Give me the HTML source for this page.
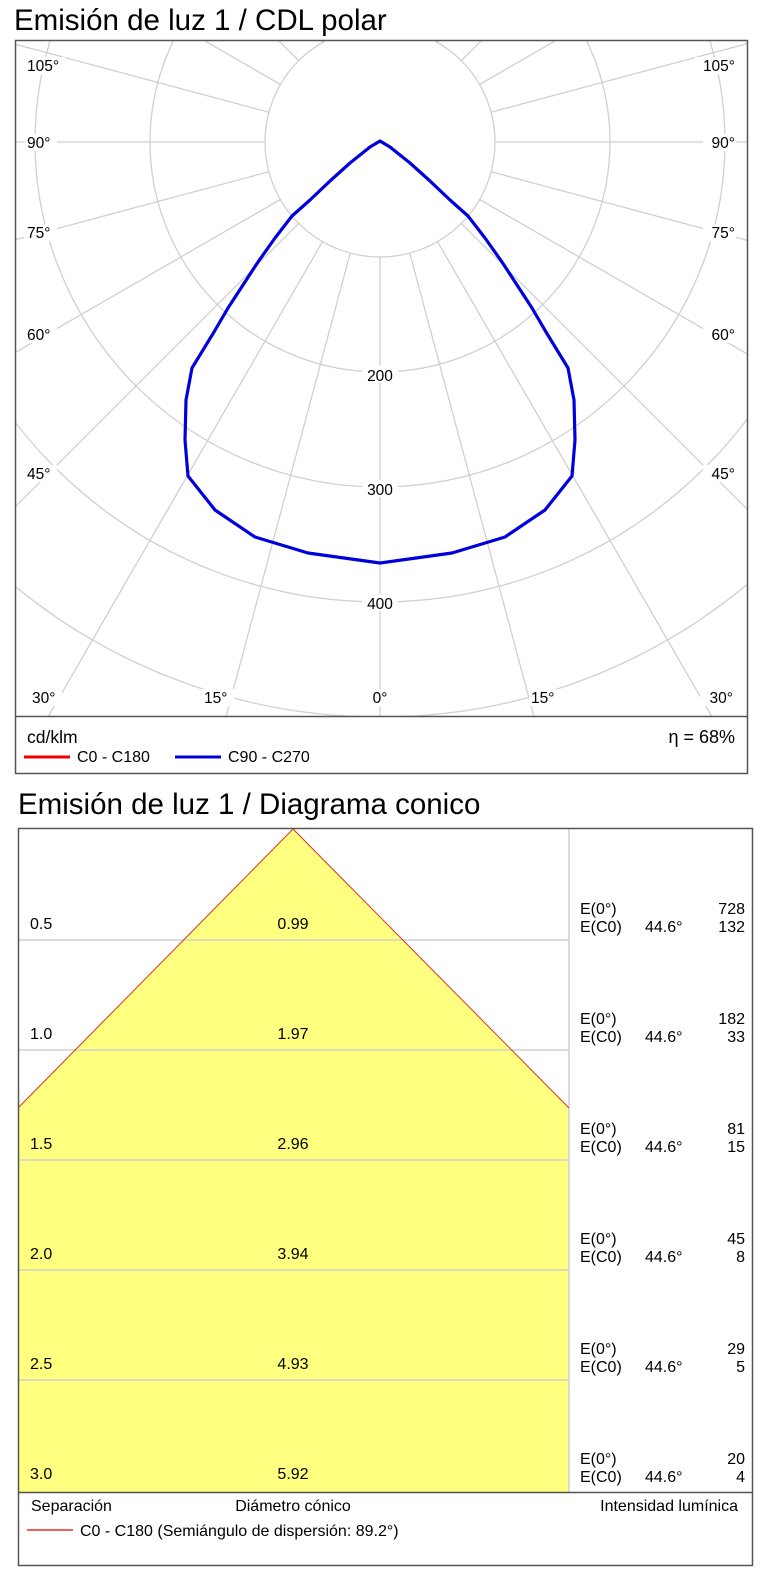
<!DOCTYPE html>
<html><head><meta charset="utf-8"><style>
html,body{margin:0;padding:0;background:#fff;}
svg{display:block;font-family:"Liberation Sans",sans-serif;}
</style></head><body>
<svg width="764" height="1575" viewBox="0 0 764 1575" xmlns="http://www.w3.org/2000/svg">
<defs>
<clipPath id="pc"><rect x="16" y="41" width="731" height="675"/></clipPath>
</defs>
<text x="14" y="30" font-size="29.5" fill="#000">Emisión de luz 1 / CDL polar</text>
<g clip-path="url(#pc)" stroke="#d0d0d0" stroke-width="1.3" fill="none">
<circle cx="380" cy="142" r="115"/>
<circle cx="380" cy="142" r="230"/>
<circle cx="380" cy="142" r="345"/>
<circle cx="380" cy="142" r="460"/>
<circle cx="380" cy="142" r="575"/>
<circle cx="380" cy="142" r="690"/>
<g>
<line x1="380" y1="257" x2="380" y2="1100"/>
<line x1="380" y1="257" x2="380" y2="1100" transform="rotate(15 380 142)"/>
<line x1="380" y1="257" x2="380" y2="1100" transform="rotate(30 380 142)"/>
<line x1="380" y1="257" x2="380" y2="1100" transform="rotate(45 380 142)"/>
<line x1="380" y1="257" x2="380" y2="1100" transform="rotate(60 380 142)"/>
<line x1="380" y1="257" x2="380" y2="1100" transform="rotate(75 380 142)"/>
<line x1="380" y1="257" x2="380" y2="1100" transform="rotate(90 380 142)"/>
<line x1="380" y1="257" x2="380" y2="1100" transform="rotate(105 380 142)"/>
<line x1="380" y1="257" x2="380" y2="1100" transform="rotate(120 380 142)"/>
<line x1="380" y1="257" x2="380" y2="1100" transform="rotate(135 380 142)"/>
<line x1="380" y1="257" x2="380" y2="1100" transform="rotate(150 380 142)"/>
<line x1="380" y1="257" x2="380" y2="1100" transform="rotate(165 380 142)"/>
<line x1="380" y1="257" x2="380" y2="1100" transform="rotate(-15 380 142)"/>
<line x1="380" y1="257" x2="380" y2="1100" transform="rotate(-30 380 142)"/>
<line x1="380" y1="257" x2="380" y2="1100" transform="rotate(-45 380 142)"/>
<line x1="380" y1="257" x2="380" y2="1100" transform="rotate(-60 380 142)"/>
<line x1="380" y1="257" x2="380" y2="1100" transform="rotate(-75 380 142)"/>
<line x1="380" y1="257" x2="380" y2="1100" transform="rotate(-90 380 142)"/>
<line x1="380" y1="257" x2="380" y2="1100" transform="rotate(-105 380 142)"/>
<line x1="380" y1="257" x2="380" y2="1100" transform="rotate(-120 380 142)"/>
<line x1="380" y1="257" x2="380" y2="1100" transform="rotate(-135 380 142)"/>
<line x1="380" y1="257" x2="380" y2="1100" transform="rotate(-150 380 142)"/>
<line x1="380" y1="257" x2="380" y2="1100" transform="rotate(-165 380 142)"/>
</g>
</g>
<g font-size="15.5" fill="#000">
<rect x="362" y="366" width="36" height="17" fill="#fff"/>
<rect x="362" y="480" width="36" height="17" fill="#fff"/>
<rect x="362" y="594" width="36" height="17" fill="#fff"/>
<text x="380" y="381" text-anchor="middle">200</text>
<text x="380" y="495" text-anchor="middle">300</text>
<text x="380" y="609" text-anchor="middle">400</text>
<g>
<rect x="24" y="57" width="41" height="17" fill="#fff"/><text x="27" y="71">105°</text>
<rect x="24" y="134" width="33" height="17" fill="#fff"/><text x="27" y="148">90°</text>
<rect x="24" y="224" width="33" height="17" fill="#fff"/><text x="27" y="238">75°</text>
<rect x="24" y="326" width="33" height="17" fill="#fff"/><text x="27" y="340">60°</text>
<rect x="24" y="465" width="33" height="17" fill="#fff"/><text x="27" y="479">45°</text>
<rect x="29" y="689" width="33" height="17" fill="#fff"/><text x="32" y="703">30°</text>
<rect x="202" y="689" width="33" height="17" fill="#fff"/><text x="204" y="703">15°</text>
<rect x="369" y="689" width="24" height="17" fill="#fff"/><text x="380" y="703" text-anchor="middle">0°</text>
<rect x="529" y="689" width="33" height="17" fill="#fff"/><text x="531" y="703">15°</text>
<rect x="700" y="689" width="33" height="17" fill="#fff"/><text x="733" y="703" text-anchor="end">30°</text>
<rect x="695" y="57" width="41" height="17" fill="#fff"/><text x="735" y="71" text-anchor="end">105°</text>
<rect x="703" y="134" width="33" height="17" fill="#fff"/><text x="735" y="148" text-anchor="end">90°</text>
<rect x="703" y="224" width="33" height="17" fill="#fff"/><text x="735" y="238" text-anchor="end">75°</text>
<rect x="703" y="326" width="33" height="17" fill="#fff"/><text x="735" y="340" text-anchor="end">60°</text>
<rect x="703" y="465" width="33" height="17" fill="#fff"/><text x="735" y="479" text-anchor="end">45°</text>
</g>
</g>
<path d="M380,141 L370,147 L350,163 L330,181 L310,200 L292,216 L275,238 L258,262 L243,285 L228,308 L214,332 L192,368 L186,400 L185,440 L188,476 L215,510 L255,537 L308,553 L380,563 L452,553 L505,537 L545,510 L572,476 L575,440 L574,400 L568,368 L546,332 L532,308 L517,285 L502,262 L485,238 L468,216 L450,200 L430,181 L410,163 L390,147 Z" fill="none" stroke="#0000dd" stroke-width="3.2" stroke-linejoin="round"/>
<rect x="15.5" y="40.5" width="732" height="733" fill="none" stroke="#555" stroke-width="1.5"/>
<line x1="15" y1="716.5" x2="748" y2="716.5" stroke="#555" stroke-width="1.5"/>
<text x="27" y="743" font-size="17.5">cd/klm</text>
<text x="735" y="743" font-size="18" text-anchor="end">η = 68%</text>
<line x1="24" y1="757" x2="70" y2="757" stroke="#e00" stroke-width="3"/>
<text x="77" y="762" font-size="16">C0 - C180</text>
<line x1="175" y1="757" x2="221" y2="757" stroke="#0000dd" stroke-width="3"/>
<text x="228" y="762" font-size="16">C90 - C270</text>

<text x="18" y="814" font-size="29.5" fill="#000">Emisión de luz 1 / Diagrama conico</text>
<polygon points="293,829 569,1108 569,1492 18,1492 18,1108" fill="#ffff80"/>
<g stroke="#d0d0d0" stroke-width="1.5">
<line x1="18" y1="940" x2="569" y2="940"/>
<line x1="18" y1="1050" x2="569" y2="1050"/>
<line x1="18" y1="1160" x2="569" y2="1160"/>
<line x1="18" y1="1270" x2="569" y2="1270"/>
<line x1="18" y1="1380" x2="569" y2="1380"/>
<line x1="569" y1="829" x2="569" y2="1492"/>
</g>
<polyline points="18,1108 293,829 569,1108" fill="none" stroke="#e03020" stroke-width="1"/>
<g font-size="16" fill="#000">
<text x="30" y="929">0.5</text><text x="293" y="929" text-anchor="middle">0.99</text>
<text x="30" y="1039">1.0</text><text x="293" y="1039" text-anchor="middle">1.97</text>
<text x="30" y="1149">1.5</text><text x="293" y="1149" text-anchor="middle">2.96</text>
<text x="30" y="1259">2.0</text><text x="293" y="1259" text-anchor="middle">3.94</text>
<text x="30" y="1369">2.5</text><text x="293" y="1369" text-anchor="middle">4.93</text>
<text x="30" y="1479">3.0</text><text x="293" y="1479" text-anchor="middle">5.92</text>
<g>
<text x="580" y="914">E(0°)</text><text x="745" y="914" text-anchor="end">728</text>
<text x="580" y="932">E(C0)</text><text x="645" y="932">44.6°</text><text x="745" y="932" text-anchor="end">132</text>
<text x="580" y="1024">E(0°)</text><text x="745" y="1024" text-anchor="end">182</text>
<text x="580" y="1042">E(C0)</text><text x="645" y="1042">44.6°</text><text x="745" y="1042" text-anchor="end">33</text>
<text x="580" y="1134">E(0°)</text><text x="745" y="1134" text-anchor="end">81</text>
<text x="580" y="1152">E(C0)</text><text x="645" y="1152">44.6°</text><text x="745" y="1152" text-anchor="end">15</text>
<text x="580" y="1244">E(0°)</text><text x="745" y="1244" text-anchor="end">45</text>
<text x="580" y="1262">E(C0)</text><text x="645" y="1262">44.6°</text><text x="745" y="1262" text-anchor="end">8</text>
<text x="580" y="1354">E(0°)</text><text x="745" y="1354" text-anchor="end">29</text>
<text x="580" y="1372">E(C0)</text><text x="645" y="1372">44.6°</text><text x="745" y="1372" text-anchor="end">5</text>
<text x="580" y="1464">E(0°)</text><text x="745" y="1464" text-anchor="end">20</text>
<text x="580" y="1482">E(C0)</text><text x="645" y="1482">44.6°</text><text x="745" y="1482" text-anchor="end">4</text>
</g>
<text x="31" y="1511">Separación</text>
<text x="293" y="1511" text-anchor="middle">Diámetro cónico</text>
<text x="738" y="1511" text-anchor="end">Intensidad lumínica</text>
<text x="80" y="1536">C0 - C180 (Semiángulo de dispersión: 89.2°)</text>
</g>
<line x1="27" y1="1530" x2="73" y2="1530" stroke="#e00" stroke-width="1.2"/>
<rect x="18.5" y="828.5" width="734" height="737" fill="none" stroke="#555" stroke-width="1.5"/>
<line x1="18" y1="1492.5" x2="753" y2="1492.5" stroke="#555" stroke-width="1.5"/>
</svg>
</body></html>
